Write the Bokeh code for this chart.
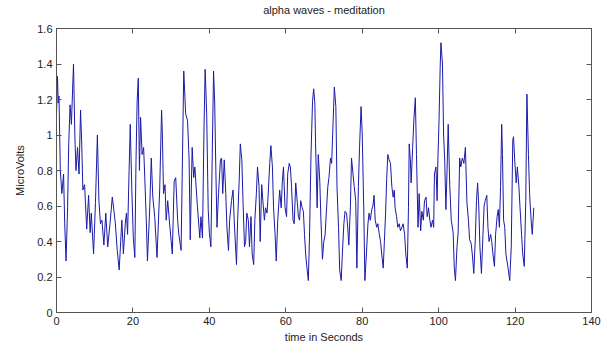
from bokeh.plotting import figure
from bokeh.models import LinearAxis, FixedTicker, Range1d, CustomJSTickFormatter, ColumnDataSource
from bokeh.embed import file_html
from bokeh.resources import INLINE

time_s = [0.0, 0.25, 0.45, 0.65, 1.0, 1.4, 1.85, 2.15, 2.5, 2.9, 3.2, 3.55, 3.9, 4.45, 4.8, 5.1, 5.5, 5.9,
          6.3, 6.6, 6.9, 7.35, 7.9, 8.4, 8.8, 9.1, 9.7, 10.2, 10.7, 11.1, 11.5, 11.9, 12.4, 12.9, 13.4,
          14.0, 14.6, 15.0, 15.4, 15.9, 16.4, 16.8, 17.1, 17.5, 18.0, 18.3, 18.6, 19.0, 19.3, 19.7, 20.1,
          20.5, 20.8, 21.1, 21.4, 21.7, 22.0, 22.4, 22.8, 23.1, 23.5, 23.8, 24.4, 24.8, 25.2, 25.7, 26.3,
          27.0, 27.5, 27.7, 28.0, 28.4, 28.7, 29.1, 29.6, 30.3, 30.8, 31.2, 31.7, 32.0, 32.6, 33.3, 33.8,
          34.3, 34.7, 35.0, 35.5, 35.9, 36.2, 36.9, 37.5, 37.8, 38.2, 38.6, 38.9, 39.3, 39.7, 40.0, 40.4,
          40.8, 41.1, 41.4, 41.7, 42.0, 42.4, 42.9, 43.2,
          43.5, 43.9, 44.3, 44.6, 45.0, 45.3, 45.8, 46.2, 46.5, 47.1, 47.4, 47.8, 48.1, 48.5, 48.8, 49.2,
          49.5, 49.8, 50.2, 50.5, 50.9, 51.2, 51.6, 51.9, 52.3, 52.6, 53.0, 53.3, 53.7, 54.0, 54.4, 54.7,
          55.1, 55.4, 55.8, 56.1, 56.5, 56.8, 57.2, 57.5, 57.9, 58.4, 58.8, 59.1, 59.4, 59.8, 60.2, 60.5,
          60.9, 61.2, 61.5, 61.9, 62.2, 62.6, 62.9, 63.3, 63.6, 63.9, 64.3, 64.6,
          64.9, 65.2, 65.5, 65.9, 66.2, 66.6, 67.0, 67.3, 67.6, 67.8, 68.2, 68.5, 68.9, 69.2, 69.6, 69.9,
          70.3, 70.6, 71.0, 71.3, 71.7, 72.0, 72.4, 72.7, 73.1, 73.4, 73.8, 74.1, 74.5, 74.8, 75.2, 75.5,
          75.9, 76.2, 76.5, 76.9, 77.2, 77.6, 77.9, 78.3, 78.6, 79.0, 79.3, 79.7, 80.0, 80.4, 80.7, 81.1,
          81.5, 81.8, 82.1, 82.5, 82.8, 83.1, 83.4, 83.8, 84.1, 84.4, 84.8, 85.1, 85.5, 85.8, 86.1, 86.4,
          86.7, 87.05, 87.4, 87.75, 88.1, 88.4, 88.6, 89.0, 89.3, 89.7, 90.0, 90.4, 90.7, 91.1, 91.4, 91.8,
          92.1, 92.3, 92.6, 92.8, 93.2, 93.5, 93.9, 94.2, 94.6, 94.9, 95.3, 95.6, 96.0, 96.3, 96.7, 97.0,
          97.35, 97.7, 98.0, 98.4, 98.7, 98.9, 99.3, 99.6, 99.8, 100.1, 100.4, 100.6,
          101.0, 101.3, 101.6, 101.9, 102.2, 102.5, 102.9, 103.3, 103.8, 104.1, 104.4, 104.8, 105.1, 105.5,
          105.8, 106.2, 106.6, 107.0, 107.4, 107.8, 108.1, 108.5, 108.8, 109.2, 109.6, 109.9, 110.2, 110.5,
          110.8, 111.2, 111.6, 111.9, 112.2, 112.6, 112.9, 113.2, 113.6, 113.9, 114.2, 114.6, 114.9, 115.3,
          115.6, 115.9, 116.2, 116.5, 116.7, 117.0, 117.3, 117.6, 118.1, 118.6, 119.0, 119.4, 119.6, 119.9,
          120.3, 120.6, 121.0, 121.3, 121.7, 122.0, 122.4, 122.8, 123.0, 123.1, 123.5, 123.8, 124.2, 124.5,
          124.9]

microvolts = [1.12, 1.33, 1.18, 1.22, 0.80, 0.67, 0.78, 0.50, 0.29, 0.59, 0.95, 1.17, 1.06, 1.40, 1.00, 0.80, 0.93, 0.78,
              1.14, 0.95, 0.69, 0.72, 0.47, 0.66, 0.45, 0.56, 0.33, 0.62, 1.00, 0.63, 0.50, 0.52, 0.38, 0.56, 0.37,
              0.50, 0.65, 0.58, 0.50, 0.35, 0.24, 0.40, 0.52, 0.33, 0.50, 0.56, 0.44, 0.80, 1.06, 0.70, 0.42,
              0.31, 0.85, 1.19, 1.32, 0.80, 1.10, 0.89, 0.93, 0.76, 0.52, 0.29, 0.59, 0.87, 0.65, 0.54, 0.31,
              0.69, 1.14, 1.01, 0.67, 0.72, 0.52, 0.63, 0.50, 0.33, 0.74, 0.76, 0.52, 0.44, 0.35, 1.36, 1.12,
              1.08, 0.86, 0.41, 0.93, 0.76, 0.82, 0.59, 0.42, 0.54, 0.42, 1.04, 1.37, 1.12, 0.58, 0.45, 0.37,
              0.95, 1.36, 1.18, 0.80, 0.48, 0.67, 0.86, 0.87,
              0.67, 0.86, 0.67, 0.48, 0.35, 0.52, 0.63, 0.69, 0.52, 0.27, 0.52, 0.74, 0.95, 0.86, 0.63, 0.37,
              0.40, 0.56, 0.52, 0.37, 0.54, 0.33, 0.27, 0.52, 0.67, 0.82, 0.71, 0.40, 0.72, 0.63, 0.52, 0.59,
              0.56, 0.67, 0.84, 0.94, 0.82, 0.59, 0.44, 0.29, 0.52, 0.69, 0.59, 0.74, 0.82, 0.59, 0.54, 0.78,
              0.84, 0.82, 0.71, 0.52, 0.50, 0.73, 0.65, 0.54, 0.52, 0.63, 0.59, 0.57,
              0.44, 0.33, 0.26, 0.18, 0.42, 0.89, 1.19, 1.26, 1.18, 0.95, 0.59, 0.89, 0.74, 0.52, 0.30, 0.39,
              0.44, 0.56, 0.71, 0.76, 0.87, 0.84, 1.08, 1.27, 1.16, 0.71, 0.48, 0.24, 0.18, 0.33, 0.50, 0.57,
              0.56, 0.48, 0.38, 0.59, 0.87, 0.78, 0.71, 0.63, 0.25, 0.71, 0.93, 1.16, 1.01, 0.59, 0.18, 0.33,
              0.50, 0.56, 0.52, 0.58, 0.60, 0.66, 0.52, 0.48, 0.50, 0.45, 0.40, 0.33, 0.25, 0.40, 0.55, 0.75,
              0.89, 0.86, 0.84, 0.71, 0.65, 0.69, 0.59, 0.54, 0.48, 0.50, 0.46, 0.48, 0.50, 0.44, 0.33, 0.25,
              0.59, 0.95, 0.86, 0.73, 0.93, 1.08, 1.21, 0.89, 0.48, 0.67, 0.46, 0.57, 0.52, 0.63, 0.65, 0.54,
              0.59, 0.52, 0.48, 0.52, 0.48, 0.78, 0.82, 0.63, 0.86, 1.08, 1.38, 1.52,
              1.40, 1.00, 0.85, 0.58, 0.80, 1.06, 0.72, 0.52, 0.45, 0.25, 0.18, 0.37, 0.45, 0.87,
              0.82, 0.87, 0.84, 0.93, 0.62, 0.52, 0.41, 0.39, 0.33, 0.22, 0.42, 0.63, 0.73, 0.60,
              0.37, 0.22, 0.44, 0.60, 0.63, 0.66, 0.48, 0.40, 0.44, 0.40, 0.33, 0.26, 0.44, 0.54,
              0.58, 0.48, 0.71, 1.06, 0.89, 0.52, 0.48, 0.33, 0.26, 0.18, 0.37, 0.97, 0.99, 0.86,
              0.73, 0.82, 0.71, 0.59, 0.44, 0.33, 0.26, 0.63, 1.04, 1.23, 0.89, 0.67, 0.52, 0.44,
              0.59]

x_ticks = [0, 20, 40, 60, 80, 100, 120, 140]
y_ticks = [0, 0.2, 0.4, 0.6, 0.8, 1, 1.2, 1.4, 1.6]

title_text = "alpha waves - meditation"
x_label = "time in Seconds"
y_label = "MicroVolts"

FONT = "Liberation Sans"
AXIS_COLOR = "#555555"
TEXT_COLOR = "#222222"

src = ColumnDataSource(data=dict(t=time_s, v=microvolts))

p = figure(width=609, height=346, output_backend="svg", toolbar_location=None,
           x_range=Range1d(0, 140), y_range=Range1d(0, 1.6),
           min_border_left=56, min_border_right=18, min_border_top=28, min_border_bottom=34,
           background_fill_color="white", border_fill_color="white")

p.line("t", "v", source=src, line_color="#1a1aa8", line_width=1)

p.grid.visible = False
p.outline_line_color = AXIS_COLOR
p.outline_line_width = 1

fmt = CustomJSTickFormatter(code="return tick.toString();")

for ax in p.xaxis:
    ax.ticker = FixedTicker(ticks=x_ticks)
    ax.formatter = fmt
for ax in p.yaxis:
    ax.ticker = FixedTicker(ticks=y_ticks)
    ax.formatter = fmt

p.xaxis.axis_label = x_label
p.yaxis.axis_label = y_label

for ax in list(p.xaxis) + list(p.yaxis):
    ax.axis_line_color = AXIS_COLOR
    ax.major_tick_line_color = AXIS_COLOR
    ax.major_tick_in = 5
    ax.major_tick_out = 0
    ax.minor_tick_line_color = None
    ax.major_label_text_font = FONT
    ax.major_label_text_font_size = "11px"
    ax.major_label_text_color = TEXT_COLOR
    ax.axis_label_text_font = FONT
    ax.axis_label_text_font_size = "11px"
    ax.axis_label_text_font_style = "normal"
    ax.axis_label_text_color = TEXT_COLOR
    ax.major_label_standoff = 4

p.xaxis.axis_label_standoff = 3
p.yaxis.axis_label_standoff = 8

# mirrored tick marks on the top edge (MATLAB box style); its label carries the chart title
top_axis = LinearAxis(ticker=FixedTicker(ticks=x_ticks), major_label_text_color=None,
                      major_label_text_font_size="1px", major_label_standoff=0,
                      axis_line_color=AXIS_COLOR, major_tick_line_color=AXIS_COLOR,
                      major_tick_in=5, major_tick_out=0, minor_tick_line_color=None,
                      axis_label=title_text, axis_label_text_font=FONT,
                      axis_label_text_font_size="11px", axis_label_text_font_style="normal",
                      axis_label_text_color=TEXT_COLOR, axis_label_standoff=13)
right_axis = LinearAxis(ticker=FixedTicker(ticks=y_ticks), major_label_text_color=None,
                        major_label_text_font_size="1px", major_label_standoff=0,
                        axis_line_color=AXIS_COLOR, major_tick_line_color=AXIS_COLOR,
                        major_tick_in=5, major_tick_out=0, minor_tick_line_color=None)
p.add_layout(top_axis, "above")
p.add_layout(right_axis, "right")

open("out.html", "w").write(file_html(p, INLINE))
